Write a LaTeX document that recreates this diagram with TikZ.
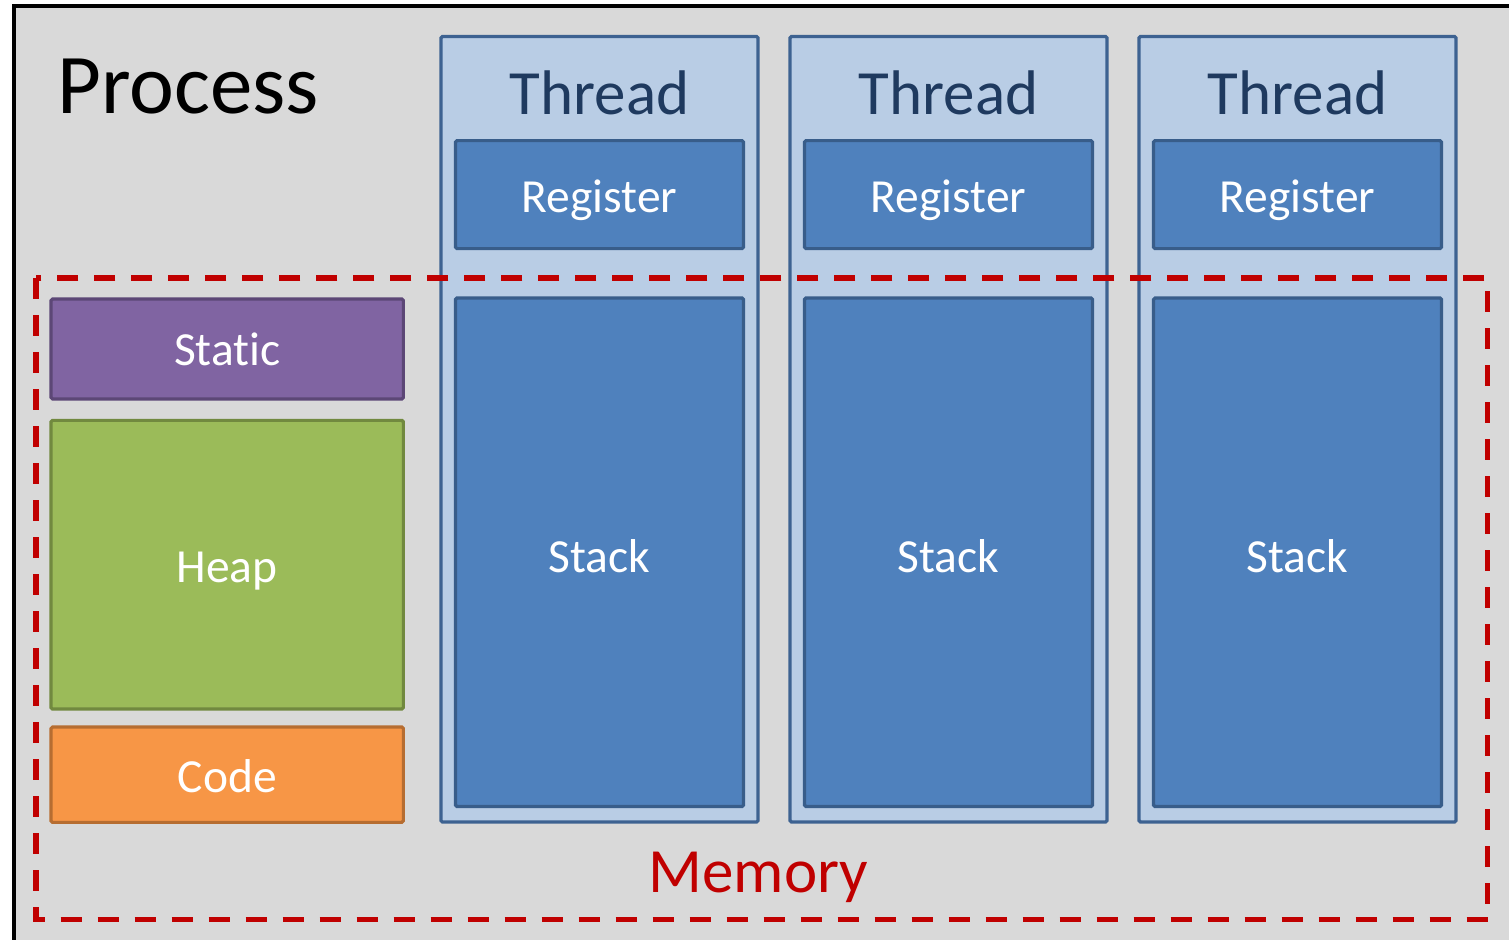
\documentclass[tikz,border=0pt]{standalone}
\usepackage{fontspec}
\setmainfont{Carlito}[Ligatures=NoCommon]
\definecolor{procgray}{HTML}{D9D9D9}
\definecolor{threadfill}{HTML}{B9CDE5}
\definecolor{threadline}{HTML}{3D6291}
\definecolor{threadtext}{HTML}{1F3A5F}
\definecolor{blockfill}{HTML}{4F81BD}
\definecolor{blockline}{HTML}{385D8A}
\definecolor{staticfill}{HTML}{8064A2}
\definecolor{staticline}{HTML}{5C4776}
\definecolor{heapfill}{HTML}{9BBB59}
\definecolor{heapline}{HTML}{71893F}
\definecolor{codefill}{HTML}{F79646}
\definecolor{codeline}{HTML}{B66D31}
\definecolor{memred}{HTML}{C00000}
\tikzset{
  box/.style={rectangle, inner sep=0pt, outer sep=0pt, line width=3.2bp, rounded corners=1.5bp},
  threadbox/.style={box, fill=threadfill, draw=threadline, minimum width=317bp, minimum height=785.5bp},
  blockbox/.style={box, fill=blockfill, draw=blockline, minimum width=288bp},
  segbox/.style={box, minimum width=352.3bp},
  lbl/.style={anchor=base, inner sep=0pt, text=white, font=\fontsize{47.5bp}{47.5bp}\selectfont},
  bigtitle/.style={anchor=base, inner sep=0pt, font=\fontsize{63bp}{63bp}\selectfont},
  memline/.style={draw=memred, line width=5.5bp, dash pattern=on 21bp off 16bp}
}
\begin{document}
\begin{tikzpicture}[x=1bp, y=-1bp]
\useasboundingbox (0,0) rectangle (1509,939);
\clip (0,0) rectangle (1509,939);

% process frame
\draw[line width=4bp, fill=procgray] (14,6) rectangle (1540,980);
\node[anchor=base west, inner sep=0pt, font=\fontsize{85bp}{85bp}\selectfont] (proc) at (57,113) {Process};

% shared segments
\node[segbox, fill=staticfill, draw=staticline, minimum height=100bp] (static) at (227.2,349) {};
\node[segbox, fill=heapfill, draw=heapline, minimum height=288.7bp] (heap) at (227.2,564.7) {};
\node[segbox, fill=codefill, draw=codeline, minimum height=95.3bp] (code) at (227.2,774.7) {};
\node[lbl] (staticlbl) at (227.2,365) {Static};
\node[lbl] (heaplbl) at (227.2,582) {Heap};
\node[lbl] (codelbl) at (227.2,792) {Code};

% threads with their registers and stacks
\foreach \i/\cx in {1/599.5, 2/948.5, 3/1297.5} {
  \node[threadbox] (thread\i) at (\cx,429.25) {};
  \node[bigtitle, text=threadtext] (threadlbl\i) at (\cx,114) {Thread};
  \node[blockbox, minimum height=108bp] (reg\i) at (\cx,194.6) {};
  \node[lbl] (reglbl\i) at (\cx,212) {Register};
  \node[blockbox, minimum height=508.5bp] (stack\i) at (\cx,552.25) {};
  \node[lbl] (stacklbl\i) at (\cx,572) {Stack};
}

% memory region
\coordinate (memtl) at (36,278);
\coordinate (membr) at (1487.7,919.5);
\draw[memline] (memtl) rectangle (membr);
\node[bigtitle, text=memred] (memlbl) at (758.5,892.5) {Memory};
\end{tikzpicture}
\end{document}
